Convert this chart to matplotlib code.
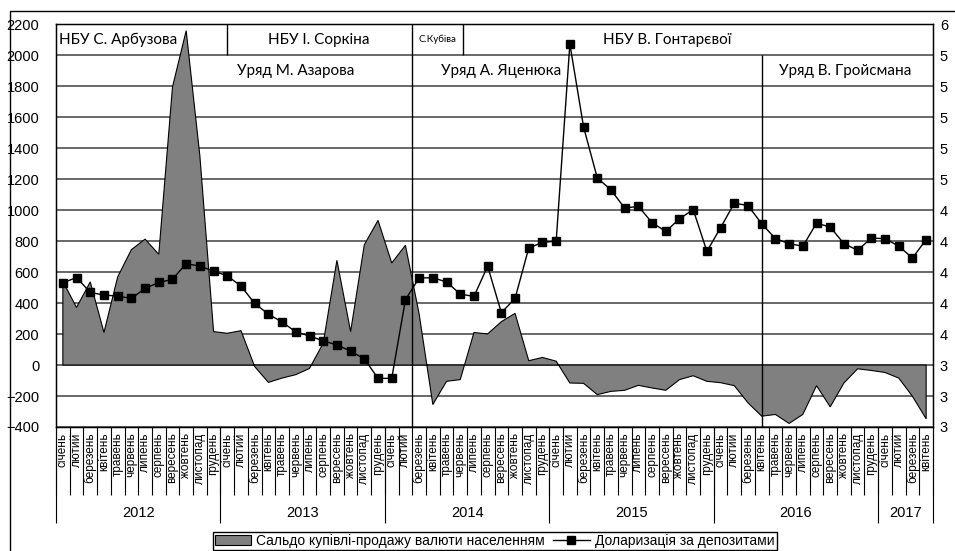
import matplotlib.pyplot as plt
import numpy as np
from matplotlib.lines import Line2D
from matplotlib.patches import Patch, Rectangle

months = ["січень", "лютий", "березень", "квітень", "травень", "червень",
          "липень", "серпень", "вересень", "жовтень", "листопад", "грудень"]
years = ["2012", "2013", "2014", "2015", "2016", "2017"]
months_per_year = [12, 12, 12, 12, 12, 4]

# net FX purchases by households, mln USD (left axis)
saldo = [540, 372, 537, 210, 569, 745, 813, 715, 1795, 2159, 1350, 216,
         205, 222, -10, -112, -84, -62, -22, 141, 676, 216, 777, 934,
         659, 773, 330, -255, -105, -94, 210, 201, 280, 334, 28, 49,
         25, -116, -118, -191, -170, -163, -131, -148, -163, -94, -69, -105,
         -114, -133, -244, -330, -319, -377, -319, -133, -270, -116, -24, -35,
         -48, -84, -202, -347]

# deposit dollarization, % (right axis)
dollarization = [43.31, 43.65, 42.69, 42.52, 42.45, 42.30, 42.95, 43.33, 43.54, 44.55, 44.38, 44.07,
                 43.76, 43.10, 41.98, 41.28, 40.78, 40.14, 39.88, 39.56, 39.30, 38.90, 38.40, 37.14,
                 37.14, 42.22, 43.63, 43.63, 43.37, 42.58, 42.43, 44.38, 41.38, 42.30, 45.56, 45.92,
                 46.00, 58.73, 53.37, 50.08, 49.31, 48.13, 48.25, 47.19, 46.63, 47.44, 48.04, 45.34,
                 46.87, 48.45, 48.30, 47.12, 46.16, 45.84, 45.67, 47.16, 46.91, 45.84, 45.41, 46.20,
                 46.16, 45.68, 44.91, 46.10]

nbu_heads = ["НБУ С. Арбузова", "НБУ І. Соркіна", "С.Кубіва", "НБУ В. Гонтарєвої"]
governments = ["Уряд М. Азарова", "Уряд А. Яценюка", "Уряд В. Гройсмана"]

plt.rcParams["font.family"] = ["Liberation Sans", "DejaVu Sans"]

fig = plt.figure(figsize=(9.55, 5.51), dpi=100)
ax = fig.add_axes([56 / 955, 124 / 551, 877 / 955, 402.7 / 551])

x = np.arange(len(saldo))
ax.fill(np.r_[x[0], x, x[-1]], np.r_[0, saldo, 0],
        facecolor="#808080", edgecolor="black", lw=0.8, zorder=2)

ax.set_xlim(-0.5, len(saldo) - 0.5)
ax.set_ylim(-400, 2200)
ax.set_yticks(range(-400, 2201, 200))
ax.yaxis.grid(True, color="#404040", lw=1.1)
ax.set_axisbelow(True)
ax.tick_params(axis="y", length=0, pad=12, labelsize=10.5)

# month labels and tick cells
labels = [months[k % 12] for k in range(len(saldo))]
ax.set_xticks(x)
ax.set_xticklabels(labels, rotation=90, fontsize=8.5)
ax.tick_params(axis="x", which="major", length=0, pad=4)
ax.set_xticks(np.arange(len(saldo) + 1) - 0.5, minor=True)
ax.tick_params(axis="x", which="minor", length=49, width=0.8, color="black")

# year row
bounds = np.r_[0, np.cumsum(months_per_year)] - 0.5
xt = ax.get_xaxis_transform()
ax.vlines(bounds, -0.238, 0, transform=xt, color="black", lw=0.8, clip_on=False)
for i, yr in enumerate(years):
    ax.text((bounds[i] + bounds[i + 1]) / 2, -0.214, yr, transform=xt,
            ha="center", va="center", fontsize=10.5)

for s in ax.spines.values():
    s.set_linewidth(1)

# table of NBU heads / governments
tfont = ["Lato", "DejaVu Sans"]
ax.vlines([12, 29.2], 2000, 2200, color="black", lw=1, zorder=4)
ax.vlines(25.5, -400, 2200, color="black", lw=1, zorder=4)
ax.vlines(51, -400, 2000, color="black", lw=1, zorder=4)
ax.text(-0.3, 2100, nbu_heads[0], ha="left", va="center", fontsize=11, family=tfont, zorder=1)
ax.text(18.7, 2100, nbu_heads[1], ha="center", va="center", fontsize=11, family=tfont, zorder=1)
ax.text(27.35, 2100, nbu_heads[2], ha="center", va="center", fontsize=7, family=tfont, zorder=1)
ax.text(44.1, 2100, nbu_heads[3], ha="center", va="center", fontsize=11, family=tfont, zorder=1)
ax.text(17.0, 1900, governments[0], ha="center", va="center", fontsize=11, family=tfont, zorder=1)
ax.text(32.0, 1900, governments[1], ha="center", va="center", fontsize=11, family=tfont, zorder=1)
ax.text(57.1, 1900, governments[2], ha="center", va="center", fontsize=11, family=tfont, zorder=1)

ax2 = ax.twinx()
ax2.plot(x, dollarization, color="black", lw=1, marker="s", ms=5.5, mfc="black", zorder=5)
ax2.set_ylim(34, 60)
rt = list(range(34, 61, 2))
ax2.set_yticks(rt)
ax2.set_yticklabels([str(t)[0] for t in rt])
ax2.tick_params(axis="y", length=0, pad=5, labelsize=10.5)
ax2.set_xlim(-0.5, len(saldo) - 0.5)

# outer chart border
fig.add_artist(Rectangle((10 / 955, -0.1), 1.2, 1 - 11 / 551 + 0.1,
                         transform=fig.transFigure, fill=False, lw=1, color="black"))

handles = [Patch(facecolor="#808080", edgecolor="black", lw=0.8),
           Line2D([], [], color="black", lw=1, marker="s", ms=5.5)]
fig.legend(handles, ["Сальдо купівлі-продажу валюти населенням", "Доларизація за депозитами"],
           loc="upper center", bbox_to_anchor=(0.518, 0.047), ncol=2, fontsize=10,
           frameon=True, fancybox=False, edgecolor="black", framealpha=1,
           borderpad=0.15, handlelength=2.6, columnspacing=0.6, handletextpad=0.4)

fig.savefig("out.png", dpi=100)
